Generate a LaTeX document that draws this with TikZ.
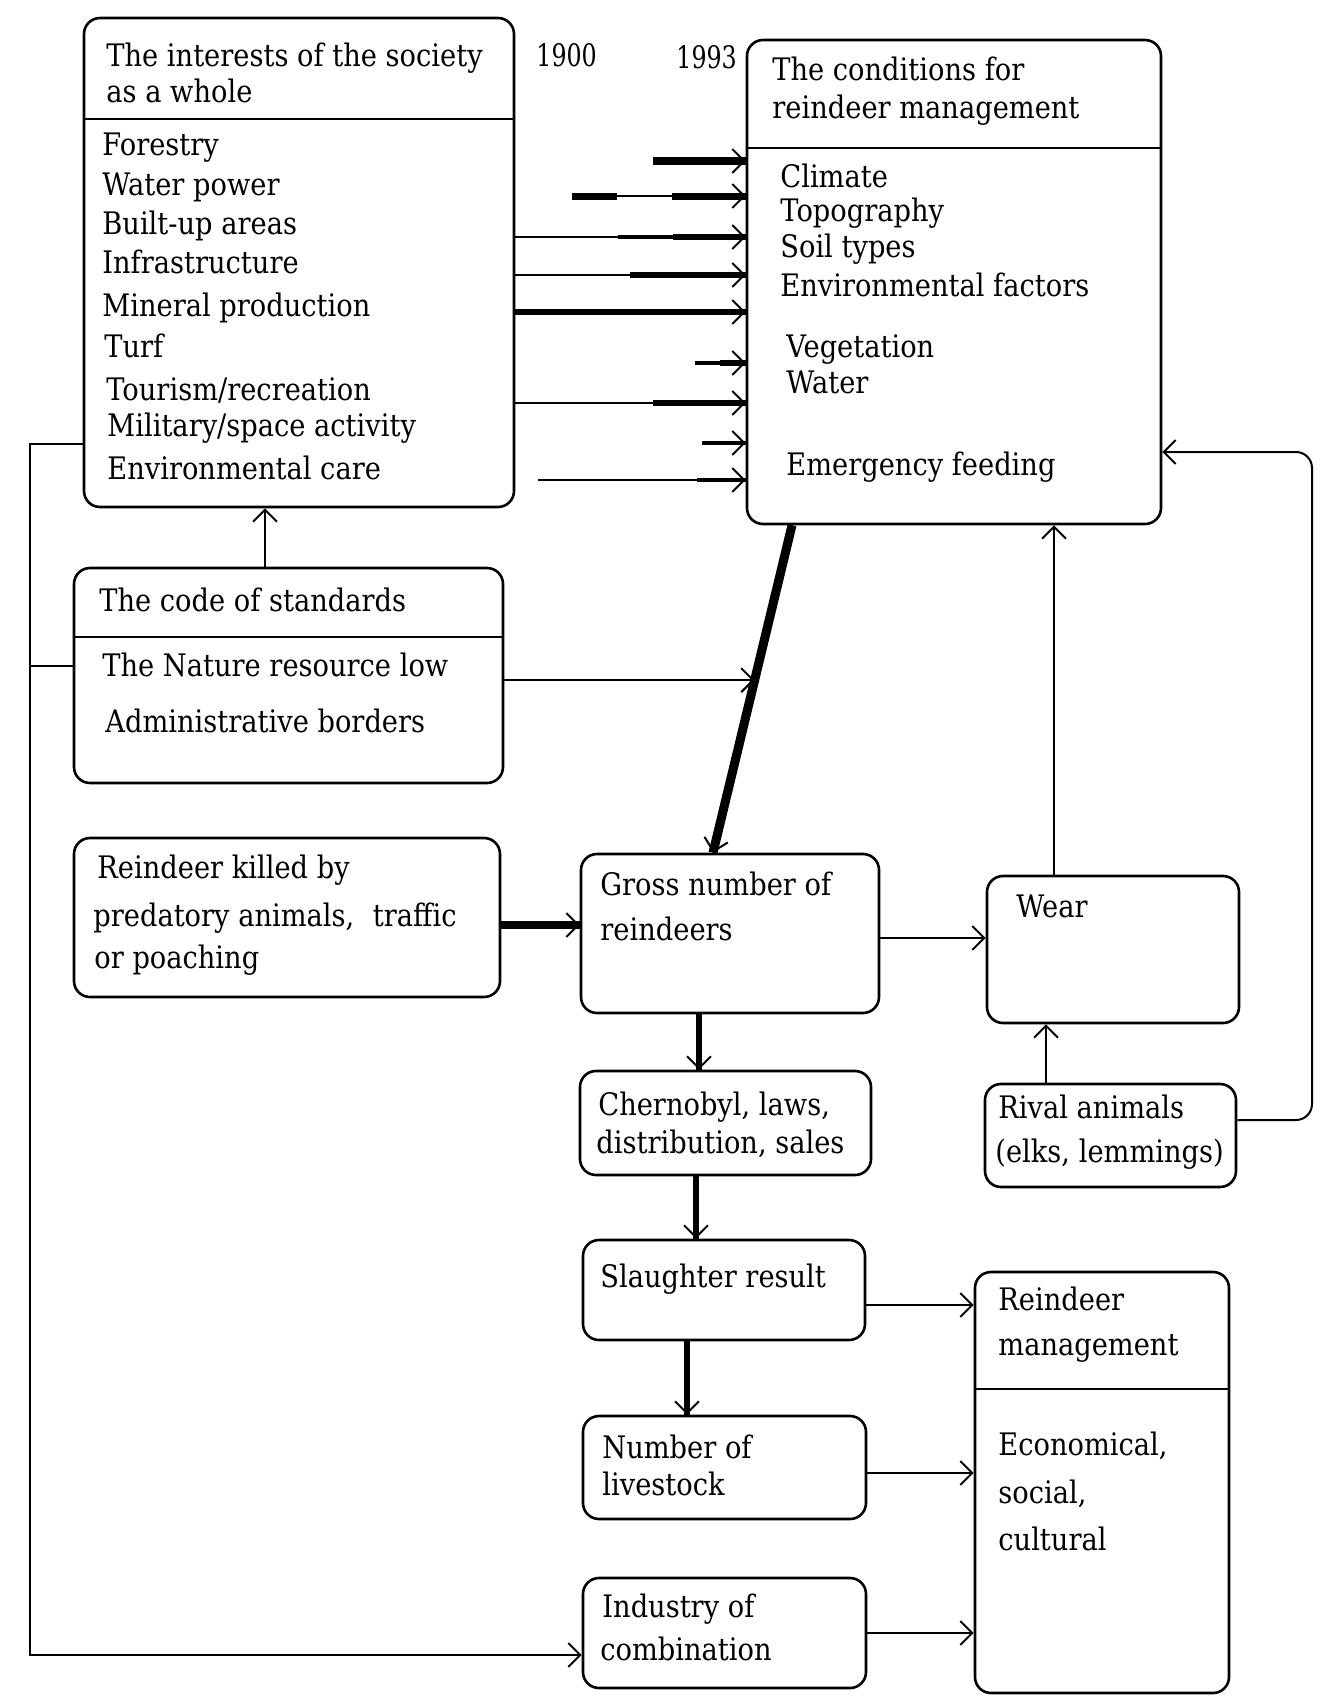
\documentclass[tikz,border=0pt]{standalone}
\usepackage{fontspec}
\setmainfont{DejaVu Serif}[FakeStretch=0.88]
\usetikzlibrary{arrows.meta,calc,fit}
\begin{document}
\begin{tikzpicture}[x=0.5pt,y=-0.5pt,
  box/.style={draw, line width=1.3pt, rounded corners=8pt, inner sep=0pt},
  sepline/.style={line width=1.3pt},
  txt/.style={anchor=base west, inner sep=0pt, font=\fontsize{15.5}{18}\selectfont},
  arr/.style={line width=1pt, -{Straight Barb[length=6pt,width=12pt]}},
  hd/.style={postaction={draw, line width=1pt, -{Straight Barb[length=6pt,width=12pt]}}},
  fat/.style={line width=#1}
]
\useasboundingbox (0,0) rectangle (1329,1697);
\fill[white] (0,0) rectangle (1329,1697);

% boxes
\node[box, fit={(84,18) (514,507)}] (A) {};
\node[box, fit={(747,40) (1161,524)}] (B) {};
\node[box, fit={(74,568) (503,783)}] (C) {};
\node[box, fit={(74,838) (500,997)}] (D) {};
\node[box, fit={(581,854) (879,1013)}] (G) {};
\node[box, fit={(987,876) (1239,1023)}] (W) {};
\node[box, fit={(985,1084) (1236,1187)}] (R) {};
\node[box, fit={(580,1071) (871,1175)}] (Ch) {};
\node[box, fit={(583,1240) (865,1340)}] (S) {};
\node[box, fit={(583,1416) (866,1519)}] (N) {};
\node[box, fit={(583,1578) (866,1688)}] (I) {};
\node[box, fit={(975,1272) (1229,1693)}] (M) {};

% separators
\draw[sepline] (A.west |- 0,119) -- (A.east |- 0,119);
\draw[sepline] (B.west |- 0,148) -- (B.east |- 0,148);
\draw[sepline] (C.west |- 0,637) -- (C.east |- 0,637);
\draw[sepline] (M.west |- 0,1389) -- (M.east |- 0,1389);

% texts
\node[txt] (a0) at (106,66) {The interests of the society};
\node[txt] (a00) at (106,102) {as a whole};
\node[txt] (a1) at (102,155) {Forestry};
\node[txt] (a2) at (102,195) {Water power};
\node[txt] (a3) at (102,234) {Built-up areas};
\node[txt] (a4) at (102,273) {Infrastructure};
\node[txt] (a5) at (102,316) {Mineral production};
\node[txt] (a6) at (104,357) {Turf};
\node[txt] (a7) at (106,400) {Tourism/recreation};
\node[txt] (a8) at (107,436) {Military/space activity};
\node[txt] (a9) at (107,479) {Environmental care};

\node[txt] (y1) at (536,66) {\scalebox{0.87}[1]{1900}};
\node[txt] (y2) at (676,68) {\scalebox{0.87}[1]{1993}};

\node[txt] (b0) at (772,80) {The conditions for};
\node[txt] (b00) at (772,118) {reindeer management};
\node[txt] (b1) at (780,187) {Climate};
\node[txt] (b2) at (780,221) {Topography};
\node[txt] (b3) at (780,257) {Soil types};
\node[txt] (b4) at (780,296) {Environmental factors};
\node[txt] (b5) at (786,357) {Vegetation};
\node[txt] (b6) at (786,393) {Water};
\node[txt] (b7) at (786,475) {Emergency feeding};

\node[txt] (c0) at (99,611) {The code of standards};
\node[txt] (c1) at (102,676) {The Nature resource low};
\node[txt] (c2) at (105,732) {Administrative borders};

\node[txt] (d1) at (97,878) {Reindeer killed by};
\node[txt] (d2) at (93,926) {predatory animals,\hspace{0.6em}traffic};
\node[txt] (d3) at (94,968) {or poaching};

\node[txt] (g1) at (600,895) {Gross number of};
\node[txt] (g2) at (600,940) {reindeers};

\node[txt] (w1) at (1016,917) {Wear};

\node[txt] (r1) at (998,1118) {Rival animals};
\node[txt] (r2) at (995,1162) {(elks, lemmings)};

\node[txt] (ch1) at (598,1115) {Chernobyl, laws,};
\node[txt] (ch2) at (596,1153) {distribution, sales};

\node[txt] (s1) at (600,1287) {Slaughter result};

\node[txt] (n1) at (602,1458) {Number of};
\node[txt] (n2) at (602,1495) {livestock};

\node[txt] (i1) at (602,1617) {Industry of};
\node[txt] (i2) at (600,1660) {combination};

\node[txt] (m1) at (998,1310) {Reindeer};
\node[txt] (m2) at (998,1355) {management};
\node[txt] (m3) at (998,1455) {Economical,};
\node[txt] (m4) at (998,1503) {social,};
\node[txt] (m5) at (998,1550) {cultural};

% arrows from society interests into conditions
\coordinate (p1) at (653,161);
\draw[fat=4pt, hd] (p1) -- (B.west |- p1);

\coordinate (p2) at (572,196);
\coordinate (p2a) at (617,196);
\coordinate (p2b) at (672,196);
\draw[arr] (p2) -- (B.west |- p2);
\draw[fat=3.5pt] (p2) -- (p2a);
\draw[fat=3.5pt] (p2b) -- (B.west |- p2);

\coordinate (p3) at (673,237);
\coordinate (p3a) at (618,237);
\draw[arr] (A.east |- p3) -- (B.west |- p3);
\draw[fat=2pt] (p3a) -- (p3);
\draw[fat=3.2pt] (p3) -- (B.west |- p3);

\coordinate (p4) at (630,275);
\draw[arr] (A.east |- p4) -- (B.west |- p4);
\draw[fat=3.2pt] (p4) -- (B.west |- p4);

\coordinate (p5) at (600,312);
\draw[fat=3.2pt, hd] (A.east |- p5) -- (B.west |- p5);

\coordinate (p6) at (695,363);
\coordinate (p6a) at (720,363);
\draw[fat=1.6pt, hd] (p6) -- (B.west |- p6);
\draw[fat=3.2pt] (p6a) -- (B.west |- p6);

\coordinate (p7) at (653,403);
\draw[arr] (A.east |- p7) -- (B.west |- p7);
\draw[fat=3.2pt] (p7) -- (B.west |- p7);

\coordinate (p8) at (702,443);
\draw[fat=1.6pt, hd] (p8) -- (B.west |- p8);

\coordinate (p9) at (538,480);
\coordinate (p9a) at (697,480);
\draw[arr] (p9) -- (B.west |- p9);
\draw[fat=2pt] (p9a) -- (B.west |- p9);

% code of standards -> interests
\draw[arr] (C.north -| 265,0) -- (A.south -| 265,0);

% thick diagonal conditions -> gross number
\coordinate (q1) at (B.south -| 792,0);
\coordinate (q2) at (G.north -| 713,0);
\draw[fat=4.5pt, hd] (q1) -- (q2);
\coordinate (qm) at ($(q1)!0.473!(q2)$);
\draw[arr] (C.east |- qm) -- (qm);

% killed -> gross
\draw[fat=4pt, hd] (D.east |- 0,925) -- (G.west |- 0,925);

% gross -> wear
\draw[arr] (G.east |- 0,938) -- (W.west |- 0,938);

% wear -> conditions
\draw[arr] (W.north -| 1054,0) -- (B.south -| 1054,0);

% rival -> wear
\draw[arr] (R.north -| 1046,0) -- (W.south -| 1046,0);

% rival -> emergency feeding
\coordinate (r1c) at (1312,1120);
\coordinate (r2c) at (1312,452);
\draw[arr, rounded corners=8pt] (R.east |- r1c) -- (r1c) -- (r2c) -- (B.east |- r2c);

% vertical chain
\draw[fat=2.6pt, hd] (G.south -| 699,0) -- (Ch.north -| 699,0);
\draw[fat=3pt, hd] (Ch.south -| 696,0) -- (S.north -| 696,0);
\draw[fat=2.6pt, hd] (S.south -| 687,0) -- (N.north -| 687,0);

% to reindeer management
\draw[arr] (S.east |- 0,1305) -- (M.west |- 0,1305);
\draw[arr] (N.east |- 0,1473) -- (M.west |- 0,1473);
\draw[arr] (I.east |- 0,1633) -- (M.west |- 0,1633);

% left feedback line
\coordinate (l1) at (30,444);
\coordinate (l2) at (30,1655);
\coordinate (l3) at (30,666);
\draw[arr] (A.west |- l1) -- (l1) -- (l2) -- (I.west |- l2);
\draw[line width=1pt] (C.west |- l3) -- (l3);
\end{tikzpicture}
\end{document}
